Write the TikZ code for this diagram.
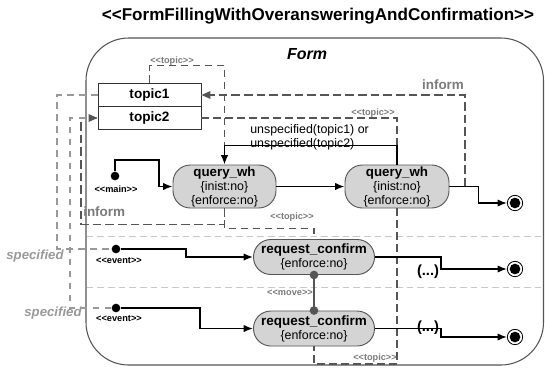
\documentclass[tikz,border=0pt]{standalone}
\usepackage{fontspec}
\setmainfont{Liberation Sans}
\usetikzlibrary{arrows.meta}
\definecolor{nodefill}{HTML}{D4D4D4}
\definecolor{dgray}{HTML}{555555}
\definecolor{mgray}{HTML}{7A7A7A}
\definecolor{lgray}{HTML}{999999}
\definecolor{lanegray}{HTML}{C8C8C8}
\begin{document}
\begin{tikzpicture}[x=0.75pt,y=-0.75pt,
  statebox/.style={draw=dgray, fill=nodefill, line width=0.7pt, rounded corners=13pt, align=center, inner sep=0pt, font=\fontsize{9.3}{10.5}\selectfont},
  topicbox/.style={draw=black!80, line width=0.7pt, minimum width=77.25pt, minimum height=17.6pt, inner sep=0pt, font=\fontsize{10.2}{12}\selectfont\bfseries},
  flow/.style={draw=black, line width=1.1pt, -{Latex[length=7pt,width=5.5pt]}},
  topicline/.style={draw=dgray, line width=0.9pt, dash pattern=on 5.5pt off 3.5pt},
  informline/.style={draw=dgray, line width=0.9pt, dash pattern=on 6.5pt off 3pt},
  specline/.style={draw=lgray, line width=0.9pt, dash pattern=on 5pt off 4pt},
  lane/.style={draw=lanegray, line width=0.7pt, dash pattern=on 5pt off 3pt},
  startdot/.style={circle, fill=black, inner sep=0pt, minimum size=6.5pt},
  movedot/.style={circle, fill=dgray, inner sep=0pt, minimum size=6.5pt},
  finalouter/.style={circle, draw=black, line width=0.6pt, inner sep=0pt, minimum size=11.5pt},
  finalinner/.style={circle, fill=black, inner sep=0pt, minimum size=8pt},
  stereo/.style={font=\fontsize{6.9}{7.5}\selectfont\bfseries, inner sep=0pt},
  stereogray/.style={stereo, text=mgray},
  guardlabel/.style={text=mgray, font=\fontsize{10.1}{12}\selectfont\bfseries, inner sep=0pt},
  speclabel/.style={text=lgray, font=\fontsize{9.9}{12}\selectfont\bfseries\itshape, inner sep=0pt},
]
\useasboundingbox (0,0) rectangle (545,369);

% title and frame
\node[font=\fontsize{12.8}{14}\selectfont\bfseries, inner sep=0pt] (title) at (318,16) {<{}<FormFillingWithOveransweringAndConfirmation>{}>};
\draw[draw=dgray, line width=0.8pt, rounded corners=32pt] (86,38) rectangle (543.5,365);
\node[font=\fontsize{12}{14}\selectfont\bfseries\itshape, inner sep=0pt] (formlbl) at (307,54) {Form};

% lanes
\draw[lane] (86.5,236) -- (543,236);
\draw[lane] (86.5,287) -- (543,287);

% topic boxes
\node[topicbox] (t1) at (149.5,95) {topic1};
\node[topicbox] (t2) at (149.5,118) {topic2};

% states
\node[statebox, minimum width=77.25pt, minimum height=32.25pt] (qw1) at (224.5,186.5)
  {\textbf{\fontsize{10}{10.5}\selectfont query\_wh}\\\{inist:no\}\\\{enforce:no\}};
\node[statebox, minimum width=78pt, minimum height=32.25pt] (qw2) at (397,186.5)
  {\textbf{\fontsize{10}{10.5}\selectfont query\_wh}\\\{inist:no\}\\\{enforce:no\}};
\node[statebox, minimum width=90.75pt, minimum height=26.25pt] (rc1) at (314,257)
  {\textbf{\fontsize{10.1}{10.5}\selectfont request\_confirm}\\\{enforce:no\}};
\node[statebox, minimum width=90.75pt, minimum height=26.25pt] (rc2) at (314,328.5)
  {\textbf{\fontsize{10.1}{10.5}\selectfont request\_confirm}\\\{enforce:no\}};

% start dots
\node[startdot] (m0) at (115,176) {};
\node[stereo] (m0lbl) at (116,189) {<{}<main>{}>};
\node[startdot] (e1) at (116,249) {};
\node[stereo] (e1lbl) at (119,261) {<{}<event>{}>};
\node[startdot] (e2) at (116,308) {};
\node[stereo] (e2lbl) at (119,319) {<{}<event>{}>};

% final states
\node[finalouter] (f1) at (515,203) {};
\node[finalinner] (f1i) at (f1) {};
\node[finalouter] (f2) at (515,269) {};
\node[finalinner] (f2i) at (f2) {};
\node[finalouter] (f3) at (515,337) {};
\node[finalinner] (f3i) at (f3) {};

% helper coordinates
\coordinate (j1) at (224.5,147);
\coordinate (j2) at (397,147);
\coordinate (b1) at (397,364);
\coordinate (i1) at (465,186.5);
\coordinate (i2) at (81,118);
\coordinate (s1) at (57,249);
\coordinate (s2) at (70,118);
\coordinate (k1) at (186,249);
\coordinate (k2) at (200,308);

% topic dashed links
\draw[topicline] (t1.north) -- ++(0,-17) -| (j1);
\node[stereogray] (tp1) at (172,61) {<{}<topic>{}>};
\draw[topicline] (t2.east) -| (j2);
\node[stereogray] (tp2) at (373,113) {<{}<topic>{}>};
\draw[topicline] (qw2.south) -- (b1) -| (rc2.south);
\node[stereogray] (tp3) at (375,358) {<{}<topic>{}>};
\draw[topicline] (qw1.south) -- ++(0,20) -| (rc1.north);
\node[stereogray] (tp4) at (292,217) {<{}<topic>{}>};

% inform links
\draw[informline] (i1) |- (t1.east);
\fill[dgray] (t1.east) -- ++(9,-4) -- ++(0,8) -- cycle;
\node[guardlabel] (inf1) at (443,85) {inform};
\draw[informline] (qw1.south) -- ++(0,16) -| (i2);
\node[guardlabel, anchor=west] (inf2) at (83,212) {inform};

% specified links
\draw[specline] (t1.west) -| (s1) -- (e1);
\node[speclabel] (sp1) at (35,256) {specified};
\draw[specline] (e2) -| (s2) -- (t2.west);
\fill[dgray] (t2.west) -- ++(-9,-4) -- ++(0,8) -- cycle;
\node[speclabel] (sp2) at (53,313) {specified};

% control flow
\draw[flow] (m0) |- (159,160) |- (qw1.west);
\draw[flow] (qw1) -- (qw2);
\draw[flow] (qw2.north) -- ++(0,-19) -| (qw1.north);
\node[anchor=west, align=left, inner sep=0pt, font=\fontsize{9.3}{10.5}\selectfont] (guard) at (250,137) {unspecified(topic1) or\\unspecified(topic2)};
\draw[flow] (qw2.east) -- ++(29,0) |- (f1.west);
\draw[flow] (e1) -- (k1) |- (rc1.west);
\draw[flow] (e2) -- (k2) |- (rc2.west);
\draw[flow] (rc1.east) -- ++(66,0) |- (f2.west);
\draw[flow] (rc2.east) -- ++(66,0) |- (f3.west);
\node[font=\fontsize{11}{12}\selectfont\bfseries, inner sep=0pt] (d1) at (428,272) {(...)};
\node[font=\fontsize{11}{12}\selectfont\bfseries, inner sep=0pt] (d2) at (428,328) {(...)};

% move link
\draw[draw=dgray, line width=0.8pt] (rc1.south) -- (rc2.north);
\node[movedot] (mv1) at (rc1.south) {};
\node[movedot] (mv2) at (rc2.north) {};
\node[stereogray] (mvlbl) at (290,293) {<{}<move>{}>};
\end{tikzpicture}
\end{document}
